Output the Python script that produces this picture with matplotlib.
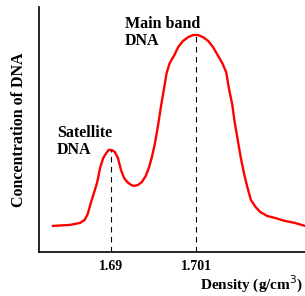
import matplotlib
matplotlib.use("Agg")
import matplotlib.pyplot as plt

# density (g/cm3) and relative concentration
density = [1.6825, 1.6847, 1.6860, 1.6866, 1.6870, 1.6874, 1.6878, 1.6882, 1.6886,
           1.6890, 1.6894, 1.6897, 1.6901, 1.6905, 1.6909, 1.6913, 1.6917, 1.6921,
           1.6926, 1.6930, 1.6935, 1.6940, 1.6945, 1.6949, 1.6953, 1.6957, 1.6961,
           1.6965, 1.6969, 1.6972, 1.6976, 1.6982, 1.6987, 1.6993, 1.7000, 1.7006,
           1.7013, 1.7019, 1.7026, 1.7032, 1.7038, 1.7044, 1.7049, 1.7053, 1.7057,
           1.7060, 1.7064, 1.7068, 1.7072, 1.7076, 1.7081, 1.7087, 1.7093, 1.7102,
           1.7112, 1.7125, 1.7138, 1.7151]
conc = [26, 27, 29, 32, 38, 49, 59, 69, 84,
        94, 99, 102, 102, 100, 94, 82, 74, 70,
        67, 66, 67, 70, 76, 84, 95, 109, 127,
        147, 165, 179, 189, 197, 205, 211, 215, 217,
        217, 215, 211, 205, 197, 189, 180, 162, 147,
        130, 112, 94, 79, 66, 52, 45, 40, 36,
        34, 31, 29, 26]

peaks = [1.69, 1.701]
peak_conc = [102, 217]
tick_labels = ["1.69", "1.701"]

plt.rcParams['font.family'] = ['Liberation Serif', 'DejaVu Serif']

fig = plt.figure(figsize=(3.05, 2.96), dpi=100)
ax = fig.add_axes([0.128, 0.149, 0.872, 0.827])

ax.plot(density, conc, color='red', linewidth=1.7)
ax.vlines(peaks, 0, peak_conc, colors='black', linestyles=(0, (5, 4)), linewidth=0.8)

ax.text(1.6918, 236, "Main band\nDNA", fontsize=11.5, fontweight='bold',
        va='top', ha='left', linespacing=1.1)
ax.text(1.6830, 127, "Satellite\nDNA", fontsize=11.5, fontweight='bold',
        va='top', ha='left', linespacing=1.1)

ax.set_xlim(1.6807, 1.7151)
ax.set_ylim(0, 245)
ax.set_xticks(peaks)
ax.set_xticklabels(tick_labels, fontsize=10, fontweight='bold')
ax.set_yticks([])
ax.tick_params(axis='x', length=0, pad=6)

for s in ['top', 'right']:
    ax.spines[s].set_visible(False)
for s in ['left', 'bottom']:
    ax.spines[s].set_linewidth(1.2)

ax.set_ylabel("Concentration of DNA", fontsize=11.5, fontweight='bold', labelpad=9)
fig.text(0.995, 0.003, "Density (g/cm$^3$)", fontsize=11, fontweight='bold',
         ha='right', va='bottom')

fig.savefig("out.png", dpi=100)
